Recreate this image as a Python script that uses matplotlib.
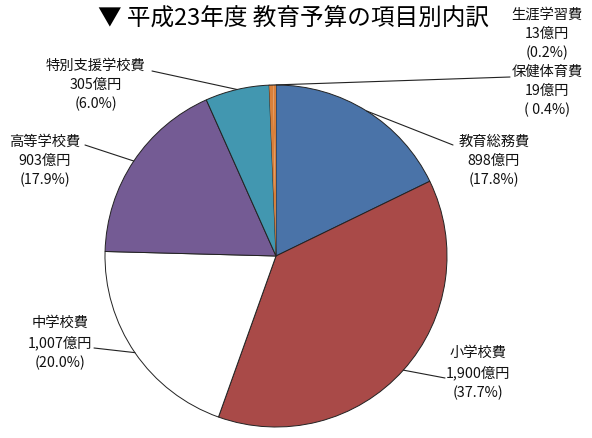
import numpy as np
import matplotlib
matplotlib.use("Agg")
import matplotlib.pyplot as plt

plt.rcParams['font.family'] = ['Noto Sans CJK JP', 'DejaVu Sans']

names = ["教育総務費", "小学校費", "中学校費", "高等学校費", "特別支援学校費", "保健体育費", "生涯学習費"]
values = [898, 1900, 1007, 903, 305, 19, 13]
amount_labels = ["898億円", "1,900億円", "1,007億円", "903億円", "305億円", "19億円", "13億円"]
pct_labels = ["(17.8%)", "(37.7%)", "(20.0%)", "(17.9%)", "(6.0%)", "( 0.4%)", "(0.2%)"]
colors = ["#4a73a8", "#a94a48", "#ffffff", "#745b94", "#4297b0", "#d9803a", "#d9803a"]

# label centres in image pixels (x, y of the middle line)
label_pos = [(494, 161), (478, 373), (60, 343), (45, 161), (96, 85), (547, 91), (547, 34)]
# start of leader line (image pixels), None = no line
line_start = [(453, 145), (445, 378), (94, 348), (85, 145), (152, 71), (510, 77), None]

W, H = 592, 438
fig = plt.figure(figsize=(W / 100, H / 100), dpi=100)
cx, cy, r = 276, 256, 171
ax = fig.add_axes([(cx - r) / W, (H - cy - r) / H, 2 * r / W, 2 * r / H])

wedges, _ = ax.pie(values, colors=colors, startangle=90, counterclock=False, radius=1,
                   wedgeprops=dict(edgecolor="#222222", linewidth=0.7))
# the two tiny slices show as one orange sliver
wedges[5].set_linewidth(0)
wedges[6].set_linewidth(0)
ax.set_xlim(-1, 1)
ax.set_ylim(-1, 1)
ax.set_aspect("equal")
ax.axis("off")

fig.text(294 / W, 1 - 19 / H, "▼ 平成23年度 教育予算の項目別内訳", ha="center", va="center",
         fontsize=17, color="black")

for i, w in enumerate(wedges):
    lx, ly = label_pos[i]
    txt = names[i] + "\n" + amount_labels[i] + "\n" + pct_labels[i]
    fig.text(lx / W, 1 - ly / H, txt, ha="center", va="center", fontsize=10.3,
             linespacing=1.45, color="#111111")
    if line_start[i] is None:
        continue
    if i == 5:
        ang = np.deg2rad(w.theta2)
    else:
        ang = np.deg2rad((w.theta1 + w.theta2) / 2)
    ex, ey = np.cos(ang), np.sin(ang)
    sx, sy = line_start[i]
    ax.annotate("", xy=(ex, ey), xycoords="data",
                xytext=(sx, H - sy), textcoords="figure pixels",
                arrowprops=dict(arrowstyle="-", color="#222222", lw=0.8,
                                shrinkA=0, shrinkB=0))

fig.savefig("out.png", dpi=100)
